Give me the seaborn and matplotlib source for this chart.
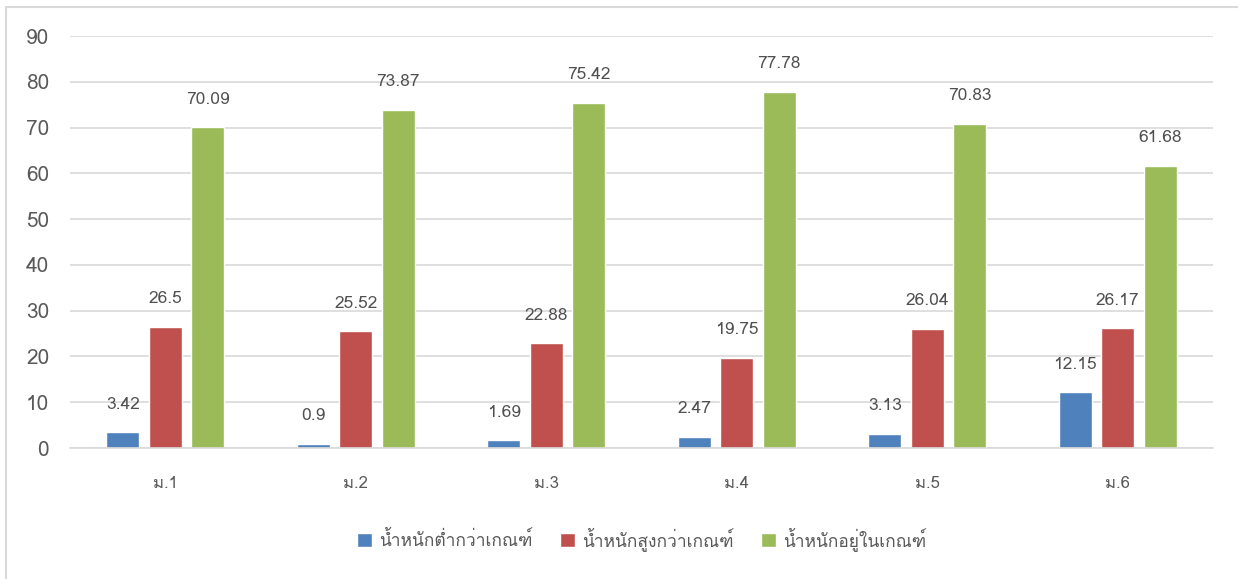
import matplotlib
matplotlib.use("Agg")
import matplotlib.pyplot as plt
from matplotlib import font_manager
from matplotlib.ft2font import FT2Font
from matplotlib.patches import Rectangle
import seaborn as sns
import pandas as pd

categories = ["ม.1", "ม.2", "ม.3", "ม.4", "ม.5", "ม.6"]
series_names = ["น้ำหนักต่ำกว่าเกณฑ์", "น้ำหนักสูงกว่าเกณฑ์", "น้ำหนักอยู่ในเกณฑ์"]
below = [3.42, 0.9, 1.69, 2.47, 3.13, 12.15]
above = [26.5, 25.52, 22.88, 19.75, 26.04, 26.17]
normal = [70.09, 73.87, 75.42, 77.78, 70.83, 61.68]
yticks = [0, 10, 20, 30, 40, 50, 60, 70, 80, 90]
colors = ["#4F81BD", "#C0504D", "#9BBB59"]

# find a font with Thai glyphs
thai_family = None
for f in font_manager.fontManager.ttflist:
    try:
        ft = FT2Font(f.fname)
        if 0x0E19 in ft.get_charmap():
            thai_family = f.name
            break
    except Exception:
        pass
families = ["DejaVu Sans"]
if thai_family:
    families = [thai_family, "DejaVu Sans"]

sns.set_theme(style="white")
plt.rcParams["font.family"] = families

rows = []
for name, vals in zip(series_names, [below, above, normal]):
    for c, v in zip(categories, vals):
        rows.append({"cat": c, "series": name, "value": v})
df = pd.DataFrame(rows)

fig = plt.figure(figsize=(12.38, 5.79), dpi=100)
ax = fig.add_axes([70 / 1238, 1 - 448 / 579, (1213 - 70) / 1238, (448 - 36) / 579])

sns.barplot(data=df, x="cat", y="value", hue="series", palette=colors,
            width=0.67, gap=0.22, ax=ax, legend=True, saturation=1, errorbar=None)

ax.set_ylim(0, 90)
ax.set_yticks(yticks)
ax.set_xlim(-0.5, len(categories) - 0.5)
ax.yaxis.grid(True, color="#D9D9D9", linewidth=1.2)
ax.set_axisbelow(True)
for s in ["top", "right", "left"]:
    ax.spines[s].set_visible(False)
ax.spines["bottom"].set_color("#D9D9D9")
ax.spines["bottom"].set_linewidth(1.2)
ax.set_xlabel("")
ax.set_ylabel("")
ax.tick_params(axis="y", length=0, pad=15, labelsize=15, labelcolor="#595959")
ax.tick_params(axis="x", length=0, pad=20, labelsize=12, labelcolor="#595959")

for cont in ax.containers:
    labels = [("%g" % b.get_height()) for b in cont]
    ax.bar_label(cont, labels=labels, padding=14, fontsize=12.5, color="#505050")

handles, labs = ax.get_legend_handles_labels()
ax.legend(handles, labs, loc="center", bbox_to_anchor=(0.5, -0.22), ncol=3,
          frameon=False, fontsize=12.5, handlelength=0.85, handleheight=0.85,
          columnspacing=1.6, handletextpad=0.4, labelcolor="#595959")

fig.patches.append(Rectangle((6 / 1238, -0.01), 1.02, 1 - 7 / 579 + 0.01,
                             transform=fig.transFigure, fill=False,
                             edgecolor="#D9D9D9", linewidth=1.5))

fig.savefig("out.png", dpi=100, facecolor="white")
